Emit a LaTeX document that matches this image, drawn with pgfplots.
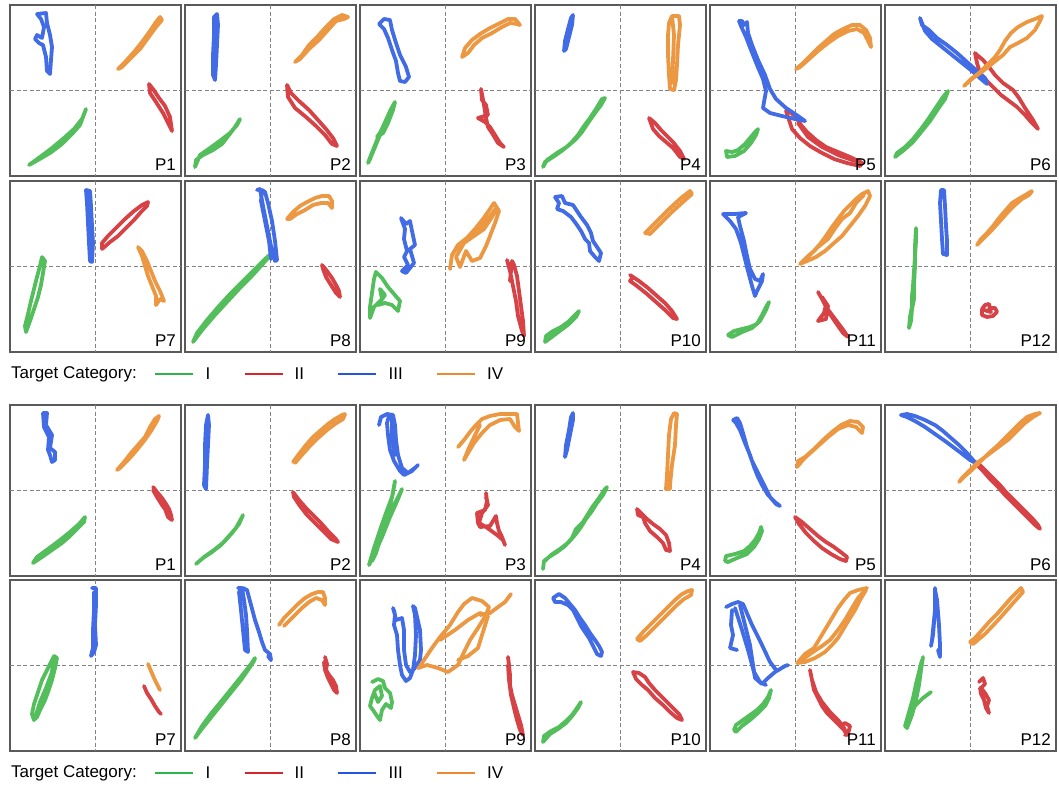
\documentclass[border=0pt]{standalone}
\usepackage{pgfplots}
\pgfplotsset{compat=1.18}
\usepackage{fontspec}
\setmainfont{Liberation Sans}
\definecolor{trG}{RGB}{84,190,92}
\definecolor{trR}{RGB}{214,66,70}
\definecolor{trB}{RGB}{66,108,230}
\definecolor{trO}{RGB}{236,152,66}
\definecolor{lgG}{RGB}{46,180,74}
\definecolor{lgR}{RGB}{212,38,44}
\definecolor{lgB}{RGB}{36,84,224}
\definecolor{lgO}{RGB}{236,138,50}
\definecolor{frameC}{RGB}{90,90,90}
\definecolor{gridC}{RGB}{130,130,130}
\newcommand{\lab}{\fontsize{17}{20}\selectfont}
\pgfplotsset{
 pan/.style={width=171pt,height=171pt,scale only axis,anchor=north west,
  xmin=0,xmax=171,ymin=0,ymax=171,y dir=reverse,xtick=\empty,ytick=\empty,
  axis line style={draw=frameC,line width=1.3pt},
  every axis plot/.append style={line width=3.8pt,line join=round,line cap=round,no markers}},
 tg/.style={draw=trG},tr/.style={draw=trR},tb/.style={draw=trB},to/.style={draw=trO},
 legax/.style={anchor=west,hide axis,scale only axis,width=20pt,height=10pt,
  xmin=0,xmax=1,ymin=0,ymax=1,clip=false,legend columns=4,
  legend style={at={(0,0.5)},anchor=west,draw=none,fill=none,inner sep=0pt,font=\lab,
   /tikz/every odd column/.append style={column sep=9pt},
   /tikz/every even column/.append style={column sep=31pt}},
  legend image code/.code={\draw[##1] (0pt,0pt) -- (38pt,0pt);}}
}
\newcommand{\pan}[4]{%
\begin{axis}[pan,at={(#1pt,-#2pt)}]
\draw[gridC,line width=0.8pt,dash pattern=on 4pt off 2.5pt] (axis cs:85.5,0) -- (axis cs:85.5,171);
\draw[gridC,line width=0.8pt,dash pattern=on 4pt off 2.5pt] (axis cs:0,85.5) -- (axis cs:171,85.5);
#4
\node[anchor=south east,inner sep=0pt,font=\lab] at ([xshift=-5pt,yshift=5pt]axis cs:171,171) {#3};
\end{axis}}
\newcommand{\legendrow}[1]{%
\begin{axis}[legax,at={(154pt,-#1pt)}]
\addlegendimage{lgG,line width=2.4pt}\addlegendentry{I}
\addlegendimage{lgR,line width=2.4pt}\addlegendentry{II}
\addlegendimage{lgB,line width=2.4pt}\addlegendentry{III}
\addlegendimage{lgO,line width=2.4pt}\addlegendentry{IV}
\node[anchor=east,inner sep=0pt,font=\lab] at ([xshift=-17pt]axis cs:0,0.5) {Target Category:};
\end{axis}}
\begin{document}
\begin{tikzpicture}
\useasboundingbox (0,0) rectangle (1059pt,-787pt);
% ================= TOP GROUP =================
\pan{10}{5}{P1}{
\addplot[tg] coordinates {(19,160)(28,155)(40,148)(52,139)(62,129)(70,120)(76,104)(72,114)(64,124)(54,133)(42,143)(30,152)(19,160)};
\addplot[tr] coordinates {(139,79)(143,84)(149,93)(155,101)(160,112)(162,126)(158,118)(153,108)(146,97)(140,88)(139,79)};
\addplot[tb] coordinates {(27,9)(36,8)(37,18)(40,30)(42,42)(41,55)(40,69)(37,66)(36,52)(33,40)(29,38)(25,34)(27,30)(32,33)(34,22)(31,14)(27,9)};
\addplot[to] coordinates {(108,64)(115,57)(124,47)(132,37)(140,26)(146,17)(150,12)(152,15)(146,22)(138,33)(130,44)(120,54)(112,62)(108,64)};
}
\pan{185}{5}{P2}{
\addplot[tg] coordinates {(10,162)(11,155)(18,150)(28,145)(37,139)(44,130)(50,122)(55,114)(52,120)(45,128)(36,135)(25,143)(15,150)(10,162)};
\addplot[tr] coordinates {(102,80)(106,88)(114,96)(124,105)(133,115)(141,124)(148,133)(152,141)(147,139)(140,130)(131,121)(121,112)(110,103)(103,92)(102,80)};
\addplot[tb] coordinates {(32,9)(33,20)(32,40)(31,60)(30,75)(28,70)(28,50)(29,30)(29,12)(32,9)};
\addplot[to] coordinates {(110,57)(117,50)(124,40)(133,31)(141,22)(149,14)(157,10)(163,12)(159,14)(151,16)(143,25)(134,35)(124,44)(115,54)(110,57)};
}
\pan{360}{5}{P3}{
\addplot[tg] coordinates {(8,158)(11,150)(15,140)(20,128)(26,115)(31,104)(35,97)(33,105)(28,118)(23,128)(17,132)(22,125)(15,142)(10,154)(8,158)};
\addplot[tr] coordinates {(121,84)(122,95)(126,100)(128,110)(118,113)(125,117)(130,122)(135,130)(140,138)(144,142)(138,138)(132,128)(128,122)(126,113)(124,100)(121,84)};
\addplot[tb] coordinates {(19,19)(24,14)(30,15)(32,25)(36,38)(40,50)(46,62)(49,72)(45,77)(40,76)(38,68)(36,56)(32,45)(28,33)(24,24)(19,19)};
\addplot[to] coordinates {(102,52)(105,43)(112,35)(120,29)(130,23)(140,18)(148,14)(155,14)(160,20)(157,19)(150,18)(142,22)(132,28)(122,33)(114,40)(108,48)(102,52)};
}
\pan{535}{5}{P4}{
\addplot[tg] coordinates {(8,162)(10,157)(18,152)(28,145)(36,138)(43,130)(49,121)(55,113)(61,104)(67,94)(70,93)(66,100)(60,108)(53,118)(47,127)(41,134)(33,141)(22,148)(12,155)(8,162)};
\addplot[tr] coordinates {(114,113)(120,118)(126,125)(132,131)(138,137)(145,146)(149,154)(145,152)(138,143)(131,137)(124,131)(118,124)(114,113)};
\addplot[tb] coordinates {(38,10)(37,20)(34,32)(31,44)(29,46)(30,36)(33,24)(36,13)(38,10)};
\addplot[to] coordinates {(137,11)(144,11)(145,20)(143,40)(142,60)(141,75)(139,85)(135,84)(134,70)(133,50)(133,30)(134,18)(137,11)(139,30)(138,55)(137,78)};
}
\pan{710}{5}{P5}{
\addplot[tg] coordinates {(17,152)(16,146)(22,147)(28,145)(35,139)(40,133)(45,127)(48,124)(46,130)(41,138)(34,146)(25,151)(17,152)};
\addplot[tr] coordinates {(76,106)(79,115)(82,124)(90,133)(100,141)(112,148)(124,154)(137,158)(150,161)(152,158)(140,152)(128,147)(116,142)(106,135)(97,127)(91,120)(86,112)(80,107)(76,106)};
\addplot[tr] coordinates {(88,118)(98,132)(112,142)(128,150)(145,156)(150,155)};
\addplot[tb] coordinates {(29,16)(31,21)(36,32)(41,45)(47,60)(53,74)(56,86)(54,97)(53,103)(60,108)(72,111)(85,114)(95,116)(88,111)(76,103)(66,94)(60,84)(55,70)(48,55)(42,40)(38,28)(37,17)(34,20)(32,16)(29,16)};
\addplot[to] coordinates {(86,64)(92,59)(100,51)(108,43)(116,36)(124,29)(133,24)(142,20)(150,20)(156,25)(160,33)(161,42)(158,36)(154,28)(147,24)(138,26)(128,31)(118,38)(108,46)(98,55)(90,62)(86,64)};
}
\pan{885}{5}{P6}{
\addplot[tg] coordinates {(10,152)(12,148)(20,142)(28,134)(36,124)(44,113)(52,101)(58,92)(63,86)(60,94)(53,104)(45,116)(37,126)(28,137)(19,145)(10,152)};
\addplot[tr] coordinates {(90,48)(92,58)(95,68)(102,76)(110,84)(116,90)(124,96)(132,102)(140,110)(146,117)(153,124)(148,115)(140,103)(134,93)(128,85)(118,78)(110,70)(104,62)(98,55)(92,50)(90,48)};
\addplot[tb] coordinates {(35,13)(37,20)(44,25)(52,33)(62,40)(72,48)(82,57)(92,66)(100,73)(102,79)(96,74)(87,66)(77,58)(67,50)(57,42)(47,34)(40,26)(35,13)};
\addplot[to] coordinates {(79,81)(86,74)(94,68)(102,60)(110,52)(115,45)(120,36)(126,28)(133,22)(142,17)(150,14)(157,11)(155,16)(150,25)(142,33)(133,38)(125,42)(118,50)(108,58)(98,66)(88,73)(79,81)};
}
\pan{10}{181}{P7}{
\addplot[tg] coordinates {(32,76)(35,80)(33,92)(31,104)(28,116)(24,128)(20,140)(16,151)(15,145)(18,133)(21,120)(24,108)(27,96)(30,85)(32,76)};
\addplot[tr] coordinates {(92,68)(100,61)(108,55)(116,47)(124,39)(131,31)(137,25)(138,21)(132,24)(124,30)(115,38)(106,47)(98,55)(92,62)(92,68)};
\addplot[tb] coordinates {(76,9)(80,10)(81,25)(82,45)(83,62)(82,81)(80,80)(79,62)(78,42)(77,22)(76,9)};
\addplot[to] coordinates {(128,66)(132,75)(135,85)(138,95)(142,105)(146,115)(146,124)(150,118)(154,120)(150,110)(145,100)(141,90)(137,80)(132,70)(128,66)};
}
\pan{185}{181}{P8}{
\addplot[tg] coordinates {(8,161)(18,148)(30,134)(42,121)(54,108)(65,97)(75,86)(84,76)(88,71)(80,78)(70,88)(58,100)(46,112)(34,125)(22,139)(12,152)(8,161)};
\addplot[tr] coordinates {(137,84)(142,90)(147,97)(151,104)(154,110)(155,116)(151,112)(146,104)(141,96)(138,88)(137,84)};
\addplot[tb] coordinates {(72,9)(75,8)(78,25)(82,45)(86,65)(90,80)(92,79)(90,60)(87,40)(83,22)(80,11)(77,9)(76,20)(80,40)(84,60)(86,78)};
\addplot[to] coordinates {(102,38)(108,31)(115,25)(122,21)(130,17)(137,15)(144,15)(147,20)(147,27)(143,22)(136,22)(128,24)(120,29)(112,33)(105,38)(102,38)};
}
\pan{360}{181}{P9}{
\addplot[tg] coordinates {(10,137)(10,126)(12,112)(14,98)(16,91)(22,97)(28,106)(34,113)(40,120)(38,130)(32,124)(25,122)(18,124)(25,114)(20,108)(22,118)(14,126)(10,137)};
\addplot[tr] coordinates {(147,79)(150,90)(153,105)(156,120)(158,135)(162,150)(164,155)(163,140)(161,125)(159,110)(157,95)(154,84)(152,80)(151,90)(150,100)};
\addplot[tb] coordinates {(41,37)(46,43)(50,40)(52,50)(55,64)(50,68)(52,75)(54,82)(50,87)(46,92)(42,90)(48,84)(44,76)(47,70)(44,58)(45,48)(41,37)};
\addplot[to] coordinates {(90,88)(92,74)(97,66)(106,58)(115,48)(123,38)(130,28)(134,22)(139,30)(135,42)(130,55)(126,65)(120,77)(112,80)(106,70)(100,86)(96,76)(104,62)(114,55)(124,48)(132,36)(137,26)(128,38)(118,50)(108,56)(98,64)(92,74)(90,88)};
}
\pan{535}{181}{P10}{
\addplot[tg] coordinates {(10,161)(11,155)(18,150)(26,146)(33,141)(39,135)(44,130)(41,136)(34,143)(26,149)(18,155)(10,161)};
\addplot[tr] coordinates {(95,94)(104,100)(113,107)(122,115)(130,122)(137,130)(142,138)(138,137)(130,129)(121,121)(112,113)(102,105)(95,100)(98,96)};
\addplot[tb] coordinates {(20,16)(27,15)(30,22)(38,24)(42,30)(46,36)(52,44)(56,52)(58,60)(62,66)(66,72)(64,80)(60,76)(55,70)(54,62)(50,58)(46,50)(42,44)(36,36)(28,30)(22,28)(24,22)(20,16)};
\addplot[to] coordinates {(110,52)(116,46)(122,40)(134,28)(146,17)(155,10)(157,13)(149,20)(137,31)(125,43)(115,53)(110,52)};
}
\pan{710}{181}{P11}{
\addplot[tg] coordinates {(18,154)(24,150)(32,148)(40,146)(47,143)(52,134)(56,126)(59,121)(56,129)(50,140)(42,147)(32,151)(22,156)(18,154)};
\addplot[tr] coordinates {(108,111)(112,118)(116,126)(122,134)(128,142)(134,150)(138,156)(133,152)(126,142)(120,133)(116,124)(114,132)(108,140)(116,138)(118,125)(112,116)};
\addplot[tb] coordinates {(13,33)(24,33)(36,32)(28,36)(30,45)(34,60)(37,75)(40,88)(45,98)(50,100)(53,93)(52,100)(47,110)(45,115)(42,105)(38,90)(35,78)(31,62)(26,48)(20,40)(16,36)(13,33)};
\addplot[to] coordinates {(90,83)(97,76)(104,70)(110,63)(116,55)(122,46)(128,38)(134,30)(140,24)(146,18)(152,13)(158,10)(160,15)(155,25)(148,35)(140,45)(132,55)(124,62)(115,70)(106,76)(97,80)(90,83)};
\addplot[to] coordinates {(96,78)(108,66)(118,58)(126,46)(132,38)(140,32)(146,22)(154,14)};
}
\pan{885}{181}{P12}{
\addplot[tg] coordinates {(31,47)(31,60)(30,75)(29,90)(28,105)(27,115)(27,125)(25,136)(24,147)(26,140)(27,128)(29,118)(29,104)(30,85)(30,65)(31,47)};
\addplot[tr] coordinates {(97,128)(100,124)(104,123)(105,127)(110,127)(112,131)(108,135)(102,136)(97,134)(97,128)(102,130)(106,131)(104,127)};
\addplot[tb] coordinates {(56,9)(59,9)(60,25)(61,45)(62,60)(62,74)(58,73)(57,58)(56,40)(55,22)(56,9)};
\addplot[to] coordinates {(92,64)(96,58)(102,52)(108,45)(114,37)(120,30)(127,22)(135,17)(142,13)(147,10)(144,14)(137,18)(130,24)(123,31)(115,40)(106,50)(98,58)(92,64)};
}
\legendrow{374}
% ================= BOTTOM GROUP =================
\pan{10}{405}{P1}{
\addplot[tg] coordinates {(23,158)(32,152)(42,145)(52,138)(60,131)(67,124)(74,117)(75,112)(69,119)(60,127)(50,135)(38,144)(27,152)(23,158)};
\addplot[tr] coordinates {(143,82)(147,87)(152,93)(156,99)(159,104)(161,110)(162,115)(158,112)(155,104)(152,100)(147,92)(143,85)};
\addplot[tb] coordinates {(33,8)(37,8)(36,20)(42,30)(40,43)(45,47)(45,55)(42,57)(40,50)(38,45)(39,32)(34,22)(33,8)};
\addplot[to] coordinates {(107,65)(114,57)(121,48)(128,40)(135,32)(140,22)(145,14)(149,11)(147,16)(141,26)(134,36)(126,46)(118,55)(110,63)(107,65)};
}
\pan{185}{405}{P2}{
\addplot[tg] coordinates {(11,159)(18,153)(27,147)(36,140)(44,131)(51,123)(57,112)(58,110)(54,119)(47,128)(39,137)(29,145)(19,152)(11,159)};
\addplot[tr] coordinates {(108,87)(114,95)(121,103)(128,110)(136,118)(143,126)(150,133)(153,137)(146,134)(138,126)(130,118)(122,110)(115,101)(109,92)(108,87)};
\addplot[tb] coordinates {(23,10)(24,20)(23,40)(22,60)(21,84)(19,80)(20,60)(20,40)(21,20)(23,10)};
\addplot[to] coordinates {(108,57)(114,49)(121,40)(128,32)(136,25)(143,19)(150,14)(157,10)(160,9)(158,14)(150,19)(142,25)(133,33)(124,42)(116,51)(110,58)};
}
\pan{360}{405}{P3}{
\addplot[tg] coordinates {(9,160)(14,143)(20,125)(26,108)(32,92)(35,76)(33,88)(29,105)(25,118)(21,132)(16,148)(12,156)(18,140)(26,120)(34,100)(42,84)(38,94)(30,112)(22,132)(14,150)(9,160)};
\addplot[tr] coordinates {(126,88)(127,96)(125,105)(117,108)(118,118)(120,122)(130,121)(136,111)(137,118)(139,126)(142,132)(145,140)(143,135)(137,130)(126,122)(119,118)(122,108)(128,100)(126,92)};
\addplot[tb] coordinates {(19,20)(21,12)(27,9)(33,10)(35,20)(36,35)(38,50)(42,63)(48,68)(56,62)(58,60)(52,66)(44,70)(40,66)(34,56)(30,45)(28,30)(27,18)(29,11)(32,15)(32,30)(35,50)};
\addplot[to] coordinates {(98,42)(104,35)(110,27)(116,20)(122,14)(130,11)(140,9)(150,9)(157,9)(158,18)(159,26)(155,22)(150,14)(140,15)(130,20)(122,28)(114,38)(108,48)(104,55)(108,45)(115,30)(120,20)};
}
\pan{535}{405}{P4}{
\addplot[tg] coordinates {(8,164)(9,156)(14,152)(22,147)(30,141)(37,133)(41,124)(48,117)(53,109)(58,101)(64,93)(70,84)(72,82)(68,90)(62,98)(57,106)(51,114)(46,122)(40,130)(34,137)(25,144)(16,150)(10,156)};
\addplot[tr] coordinates {(102,104)(106,108)(112,114)(118,119)(125,124)(131,130)(134,138)(135,146)(131,145)(128,138)(122,132)(115,126)(110,118)(108,112)(103,110)(102,104)};
\addplot[tb] coordinates {(38,8)(38,15)(35,30)(32,45)(30,52)(31,40)(34,25)(36,12)(38,8)};
\addplot[to] coordinates {(139,8)(142,9)(141,20)(140,40)(137,60)(135,80)(135,84)(131,84)(132,70)(133,50)(134,30)(136,14)(139,8)};
}
\pan{710}{405}{P5}{
\addplot[tg] coordinates {(15,156)(16,151)(25,149)(34,146)(40,141)(45,135)(49,128)(51,122)(52,126)(49,134)(44,142)(37,149)(27,153)(18,157)(15,156)};
\addplot[tr] coordinates {(85,112)(92,117)(100,124)(108,131)(116,137)(124,142)(132,148)(137,152)(136,156)(130,154)(121,149)(112,143)(104,136)(96,128)(89,119)(85,112)};
\addplot[tb] coordinates {(23,15)(27,13)(30,18)(33,28)(37,42)(42,56)(47,66)(51,74)(55,82)(60,92)(66,99)(70,101)(65,97)(58,90)(52,80)(48,72)(44,62)(40,50)(35,38)(30,25)(26,18)(23,15)};
\addplot[to] coordinates {(87,62)(88,56)(95,52)(104,44)(113,35)(122,27)(131,20)(140,16)(148,17)(153,22)(152,28)(146,22)(138,20)(128,24)(118,32)(108,41)(98,50)(92,56)(87,62)};
}
\pan{885}{405}{P6}{
\addplot[tr] coordinates {(92,57)(96,61)(103,68)(110,75)(115,80)(120,86)(126,92)(133,99)(140,106)(147,113)(153,120)(155,124)(150,120)(143,113)(136,106)(128,98)(120,90)(113,82)(105,74)(98,66)(92,60)};
\addplot[tb] coordinates {(16,10)(22,9)(30,11)(40,15)(50,20)(58,26)(66,33)(74,40)(82,48)(88,55)(91,58)(85,55)(76,48)(68,42)(60,36)(50,29)(40,22)(30,16)(22,12)(16,10)};
\addplot[to] coordinates {(74,77)(80,71)(88,64)(96,56)(104,48)(112,41)(120,33)(128,25)(135,18)(142,12)(150,9)(155,8)(148,12)(140,18)(132,26)(124,34)(116,40)(108,46)(100,52)(92,58)(84,66)(77,73)(74,77)};
}
\pan{10}{580}{P7}{
\addplot[tg] coordinates {(44,76)(47,78)(45,88)(42,100)(38,112)(35,120)(30,130)(27,137)(24,140)(22,134)(24,124)(28,112)(32,100)(37,90)(41,82)(44,76)(42,92)(36,108)(30,122)(26,135)};
\addplot[tr] coordinates {(134,106)(137,113)(141,119)(145,126)(149,132)(151,134)};
\addplot[tb] coordinates {(82,8)(86,8)(86,25)(85,45)(86,65)(84,72)(81,76)(83,68)(83,50)(84,30)(84,12)};
\addplot[to] coordinates {(138,84)(141,91)(144,98)(147,104)(150,110)};
}
\pan{185}{580}{P8}{
\addplot[tg] coordinates {(10,158)(16,150)(24,140)(32,130)(40,120)(48,110)(56,100)(63,90)(69,81)(70,78)(66,84)(59,93)(51,103)(43,113)(34,124)(25,135)(17,146)(10,158)};
\addplot[tr] coordinates {(140,77)(142,84)(141,90)(144,95)(148,100)(151,106)(152,113)(149,110)(146,104)(143,98)(140,90)(139,82)};
\addplot[tb] coordinates {(53,8)(57,8)(59,20)(61,35)(62,50)(63,72)(60,70)(58,50)(56,30)(54,12)(58,8)(62,10)(66,25)(70,40)(74,52)(77,62)(80,70)(85,74)(86,80)(83,76)};
\addplot[to] coordinates {(94,45)(99,38)(106,31)(113,24)(120,18)(127,14)(133,12)(138,12)(140,18)(140,25)(137,20)(131,18)(124,22)(117,28)(110,35)(103,42)(99,46)};
}
\pan{360}{580}{P9}{
\addplot[tg] coordinates {(12,102)(18,99)(23,101)(25,108)(30,113)(32,122)(31,128)(26,124)(22,130)(20,140)(17,136)(13,130)(10,126)(12,118)(15,110)(20,106)(22,116)(18,122)(14,112)};
\addplot[tr] coordinates {(148,77)(149,85)(150,95)(150,105)(152,115)(155,125)(158,135)(161,145)(163,155)(160,150)(157,140)(154,128)(151,115)(149,100)(148,85)};
\addplot[tb] coordinates {(33,28)(35,35)(34,45)(37,55)(38,70)(40,85)(42,95)(46,101)(50,98)(53,90)(55,75)(56,55)(55,35)(53,26)(55,28)(60,50)(61,70)(60,80)(55,88)(50,92)(46,85)(44,70)(44,50)(42,38)(36,40)(34,30)};
\addplot[to] coordinates {(58,88)(67,85)(78,88)(88,92)(98,85)(104,72)(110,60)(118,48)(126,35)(129,27)(122,21)(112,18)(104,24)(98,32)(90,45)(80,57)(72,68)(64,80)(60,86)};
\addplot[to] coordinates {(80,60)(95,50)(108,40)(120,33)(128,36)(122,55)(118,68)(108,76)(98,80)};
\addplot[to] coordinates {(120,35)(130,33)(138,27)(145,22)(151,14)};
}
\pan{535}{580}{P10}{
\addplot[tg] coordinates {(8,162)(9,156)(16,151)(24,147)(31,141)(37,135)(42,128)(46,122)(43,128)(38,135)(31,143)(23,149)(15,154)(8,162)};
\addplot[tr] coordinates {(98,92)(104,93)(110,97)(114,103)(120,110)(126,116)(132,122)(138,128)(144,134)(147,140)(142,138)(135,132)(128,125)(120,118)(113,110)(107,105)(101,99)(98,92)};
\addplot[tb] coordinates {(18,18)(24,14)(30,18)(35,24)(40,30)(45,38)(50,45)(55,53)(60,60)(64,66)(67,72)(66,76)(62,74)(58,66)(54,58)(50,52)(46,46)(42,38)(38,30)(33,25)(26,22)(20,22)(18,18)};
\addplot[to] coordinates {(102,59)(108,52)(115,45)(122,38)(128,32)(134,26)(140,20)(147,14)(153,11)(157,10)(156,15)(149,19)(142,25)(135,32)(128,39)(120,47)(112,55)(105,61)(102,59)};
}
\pan{710}{580}{P11}{
\addplot[tg] coordinates {(24,150)(26,145)(33,140)(40,135)(47,130)(53,124)(58,117)(61,110)(59,118)(55,126)(48,133)(40,140)(32,146)(26,152)(24,150)};
\addplot[tr] coordinates {(100,90)(102,100)(104,110)(108,118)(112,126)(117,133)(122,138)(126,142)(130,146)(134,150)(137,155)(134,148)(128,140)(120,132)(112,122)(106,112)(102,100)(100,90)};
\addplot[tr] coordinates {(130,146)(135,143)(140,146)(138,154)(135,155)};
\addplot[tb] coordinates {(16,27)(22,24)(28,22)(33,24)};
\addplot[tb] coordinates {(30,25)(35,45)(40,65)(43,85)(45,98)(52,104)(58,98)(65,92)(75,86)(78,85)};
\addplot[tb] coordinates {(25,28)(32,50)(38,70)(44,92)(50,102)(56,105)};
\addplot[tb] coordinates {(33,24)(42,45)(52,65)(60,82)(66,90)};
\addplot[tb] coordinates {(22,30)(21,45)(23,55)(20,68)(27,70)};
\addplot[to] coordinates {(87,83)(95,82)(105,78)(115,72)(122,65)(128,58)(134,48)(140,38)(145,30)(150,20)(156,10)};
\addplot[to] coordinates {(88,82)(95,74)(104,68)(110,58)(116,48)(122,38)(128,28)(134,20)(140,13)(148,10)(157,8)};
\addplot[to] coordinates {(92,80)(100,74)(112,66)(120,60)(128,50)(135,40)(142,28)(148,18)(156,9)};
}
\pan{885}{580}{P12}{
\addplot[tg] coordinates {(38,77)(36,90)(34,105)(31,120)(27,135)(22,148)(20,146)(24,132)(28,118)(31,104)(34,92)(37,80)};
\addplot[tg] coordinates {(46,112)(38,118)(30,126)(24,135)};
\addplot[tr] coordinates {(94,102)(98,98)(100,104)(96,108)(100,113)(104,120)(102,126)(104,133)(101,128)(99,120)(96,114)(95,108)};
\addplot[tb] coordinates {(50,8)(51,20)(49,40)(47,60)(46,66)(48,55)(50,30)(50,10)(52,20)(54,45)(55,65)(55,77)(53,70)};
\addplot[to] coordinates {(85,62)(90,58)(97,50)(104,42)(112,34)(119,26)(126,18)(132,12)(136,8)(138,12)(129,22)(115,38)(100,54)(88,64)(85,62)};
}
\legendrow{773}
\end{tikzpicture}
\end{document}
